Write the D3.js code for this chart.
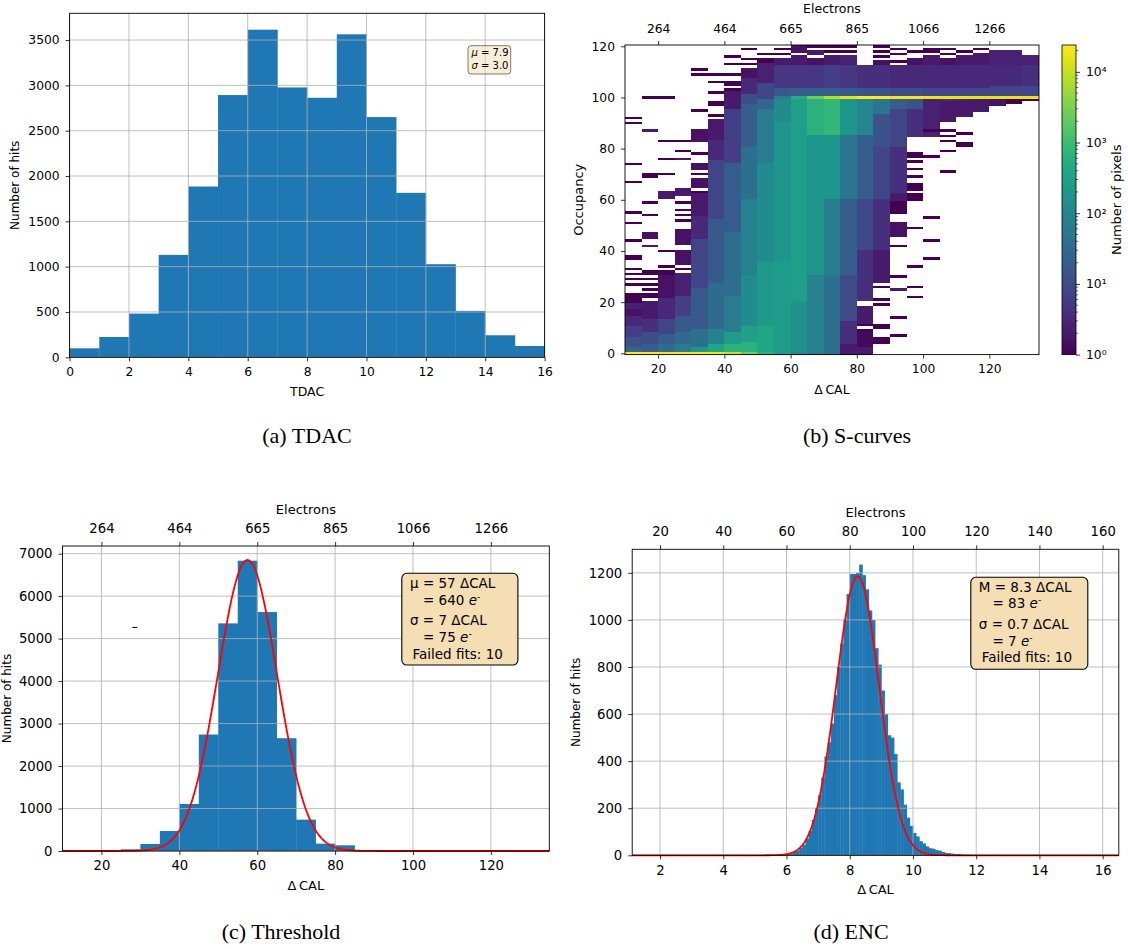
<!DOCTYPE html>
<html>
<head>
<meta charset="utf-8">
<script src="https://cdn.jsdelivr.net/npm/d3@7"></script>
<style>
  body { margin: 0; background: #fff; }
  svg text { font-family: "DejaVu Sans", sans-serif; }
  svg text.caption { font-family: "Liberation Serif", "Times New Roman", serif; }
</style>
</head>
<body>
<svg id="fig" width="1128" height="949"></svg>
<script>
// ---- data ----

// (a) TDAC histogram, unit bins
const tdacBins = [0, 1, 2, 3, 4, 5, 6, 7, 8, 9, 10, 11, 12, 13, 14, 15];
const tdacCounts = [99, 224, 482, 1130, 1884, 2893, 3614, 2977, 2863, 3563, 2650, 1814, 1027, 512, 243, 125];
const tdacTicksX = [0, 2, 4, 6, 8, 10, 12, 14, 16];
const tdacTicksY = [0, 500, 1000, 1500, 2000, 2500, 3000, 3500];

// ΔCAL ticks and their electron equivalents (top axis of b and c)
const calTicks = [20, 40, 60, 80, 100, 120];
const electronLabels = [264, 464, 665, 865, 1066, 1266];

// (b) S-curves: ΔCAL columns (5 wide), per column runs of occupancy rows [from, to, log10(pixels)]
const scurveCal = [10, 15, 20, 25, 30, 35, 40, 45, 50, 55, 60, 65, 70, 75, 80, 85, 90, 95, 100, 105, 110, 115, 120, 125, 130];
const scurveRuns = [
  [[0,0,4.35],[1,2,1.4],[3,6,1.1],[7,10,0.8],[11,14,0.5],[15,17,0.2],[18,19,0.4],[20,21,0]],
  [[0,0,4.35],[1,3,1.3],[4,8,1.0],[9,13,0.6],[14,20,0.3],[22,23,0],[42,42,0.3],[45,47,0.2],[87,87,0.3]],
  [[0,0,4.3],[1,3,1.5],[4,7,1.3],[8,13,0.9],[14,21,0.5],[22,30,0.2],[61,63,0.3]],
  [[0,0,4.3],[1,3,1.8],[4,8,1.5],[9,14,1.2],[15,22,0.8],[23,31,0.4],[35,40,0.2],[43,48,0.2],[62,64,0.3],[76,76,0.3]],
  [[0,0,4.3],[1,2,2.3],[3,9,1.6],[10,25,1.2],[26,44,0.9],[45,53,0.5],[54,62,0.3],[65,68,0.2],[72,74,0.2],[83,87,0.2]],
  [[0,0,4.25],[1,3,2.6],[4,9,1.9],[10,27,1.5],[28,52,1.2],[53,75,0.9],[76,83,0.5],[84,91,0.3]],
  [[0,0,4.0],[1,3,2.8],[4,8,2.4],[9,22,1.8],[23,47,1.55],[48,74,1.25],[75,95,0.8],[96,102,0.3]],
  [[0,0,3.4],[1,4,2.8],[5,10,2.5],[11,30,2.1],[31,60,1.9],[61,80,1.6],[81,97,1.3],[98,101,1.0],[102,107,0.5],[108,111,0.2]],
  [[0,0,2.8],[1,10,2.6],[11,35,2.35],[36,74,2.1],[75,95,1.8],[96,99,1.4],[100,105,0.9],[106,113,0.4]],
  [[0,0,2.4],[1,35,2.4],[36,90,2.3],[91,99,2.1],[100,100,1.8],[101,103,1.2],[104,112,0.7],[113,115,0.3]],
  [[0,0,2.0],[1,20,2.2],[21,95,2.45],[96,99,2.5],[100,100,2.7],[101,103,1.3],[104,112,0.7],[113,116,0.3],[118,120,0.2]],
  [[0,0,1.8],[1,30,1.95],[31,85,2.3],[86,99,2.8],[100,100,3.4],[101,103,1.3],[104,112,0.7],[113,115,0.2],[117,118,0.3]],
  [[0,0,1.5],[1,30,1.6],[31,60,1.85],[61,85,2.3],[86,99,2.9],[100,100,3.9],[101,103,1.3],[104,112,0.8],[113,116,0.3]],
  [[0,3,0.3],[4,12,0.6],[13,30,1.0],[31,60,1.3],[61,85,1.7],[86,99,2.3],[100,100,4.2],[101,103,1.2],[104,112,0.7],[113,116,0.4]],
  [[0,2,0.3],[3,8,0.1],[12,18,0.3],[21,40,0.6],[41,60,0.95],[61,85,1.3],[86,99,2.0],[100,100,4.35],[101,103,1.1],[104,112,0.6]],
  [[4,6,0],[28,40,0.3],[41,60,0.6],[61,80,0.9],[81,93,1.1],[94,99,1.7],[100,100,4.35],[101,103,1.1],[104,112,0.6],[113,114,0.2]],
  [[25,25,0.3],[46,51,0.2],[55,59,0],[60,62,0.3],[63,80,0.6],[81,95,0.9],[96,99,1.3],[100,100,4.3],[101,103,1.0],[104,112,0.5]],
  [[60,62,0],[64,66,0],[77,78,0],[85,95,0.6],[96,99,1.1],[100,100,4.3],[101,103,1.0],[104,112,0.5],[113,115,0.2]],
  [[85,99,0.4],[100,100,4.25],[101,103,0.9],[104,112,0.5],[113,116,0.3]],
  [[91,98,0.3],[99,99,0.5],[100,100,4.2],[101,103,0.9],[104,112,0.5],[113,115,0.2]],
  [[93,98,0.3],[99,99,0.4],[100,100,4.2],[101,103,0.9],[104,112,0.5],[113,116,0.3]],
  [[95,99,0.3],[100,100,4.2],[101,103,0.9],[104,112,0.5],[113,117,0.3]],
  [[97,99,0.2],[100,100,4.2],[101,104,0.9],[105,112,0.5],[113,118,0.4]],
  [[98,99,0],[100,100,4.2],[101,104,0.9],[105,112,0.5],[113,118,0.4]],
  [[99,99,0],[100,100,4.2],[101,104,0.9],[105,112,0.6],[113,116,0.4]]
];
// isolated rows holding a single pixel
const scurveSingles = [
  [22, 23, 27, 29, 31, 33, 37, 38, 44, 51, 55, 67, 74, 90, 92],
  [25, 27, 29, 31, 32, 54, 59, 69, 70, 100],
  [31, 32, 34, 40, 70, 76, 83, 100],
  [33, 52, 54, 56, 59, 79, 83],
  [63, 70, 78, 95, 109, 111],
  [93, 97, 98, 102, 106, 109],
  [103, 105, 106, 109, 113, 116],
  [113, 115, 119],
  [114, 115, 117],
  [117, 119],
  [],
  [120],
  [118, 120],
  [118, 120],
  [9, 11],
  [10, 11, 19, 21, 26, 116, 118, 120],
  [7, 14, 30, 42, 114, 117, 119],
  [22, 26, 34, 49, 69, 72, 75, 118],
  [37, 44, 53, 77, 87, 118, 119],
  [71, 79, 83, 85, 87, 117, 119],
  [81, 82, 86, 118],
  [119],
  [],
  [],
  []
];
const occTicks = [0, 20, 40, 60, 80, 100, 120];
const pixelMax = 24000;
const cbarTicks = [1, 10, 100, 1000, 10000];
const cbarLabels = ["10\u2070", "10\u00b9", "10\u00b2", "10\u00b3", "10\u2074"];

// (c) threshold histogram, 5 ΔCAL bins
const thrBins = [25, 30, 35, 40, 45, 50, 55, 60, 65, 70, 75, 80];
const thrCounts = [40, 165, 471, 1108, 2742, 5358, 6834, 5625, 2655, 738, 173, 134];
const thrTicksY = [0, 1000, 2000, 3000, 4000, 5000, 6000, 7000];
const thrFit = { amp: 6850, mean: 57.5, sigma: 7.6 };
const thrStray = [28.6, 5263];

// (d) ENC histogram, 0.1 ΔCAL bins starting at 6.0
const encStart = 6.0, encWidth = 0.1;
const encCounts = [6, 8, 14, 20, 32, 45, 70, 105, 150, 200,
                   255, 330, 420, 480, 560, 680, 800, 900, 1000, 1110,
                   1195, 1195, 1200, 1235, 1190, 1130, 1040, 1000, 880, 810,
                   700, 600, 510, 500, 430, 310, 280, 215, 160, 125,
                   95, 80, 60, 50, 38, 30, 28, 22, 20, 14,
                   10, 9, 7, 5, 6, 3, 2, 2];
const encTicks = [2, 4, 6, 8, 10, 12, 14, 16];
const encElectrons = [20, 40, 60, 80, 100, 120, 140, 160];
const encTicksY = [0, 200, 400, 600, 800, 1000, 1200];
const encFit = { amp: 1185, mean: 8.25, sigma: 0.68 };

// ---- helpers ----
const svg = d3.select("#fig");
const BLUE = "#1f77b4", GRID = "#b0b0b0";

function styleAxis(sel, fs) {
  sel.attr("font-family", "'DejaVu Sans', sans-serif").attr("font-size", fs);
  sel.select(".domain").remove();
  sel.selectAll(".tick line").attr("stroke", "#000").attr("stroke-width", 0.8);
  sel.selectAll(".tick text").attr("fill", "#000");
  return sel;
}

function gridLines(g, x, y, xt, yt) {
  const gg = g.append("g").attr("stroke", GRID).attr("stroke-width", 0.8);
  gg.selectAll(".gx").data(xt).join("line")
    .attr("x1", d => x(d)).attr("x2", d => x(d))
    .attr("y1", y.range()[0]).attr("y2", y.range()[1]);
  gg.selectAll(".gy").data(yt).join("line")
    .attr("y1", d => y(d)).attr("y2", d => y(d))
    .attr("x1", x.range()[0]).attr("x2", x.range()[1]);
}

function frame(g, x, y) {
  g.append("rect")
    .attr("x", x.range()[0]).attr("y", y.range()[1])
    .attr("width", x.range()[1] - x.range()[0])
    .attr("height", y.range()[0] - y.range()[1])
    .attr("fill", "none").attr("stroke", "#000").attr("stroke-width", 0.9);
}

function text(g, str, x, y, fs, opts = {}) {
  const t = g.append("text").attr("x", x).attr("y", y).attr("font-size", fs)
    .attr("text-anchor", opts.anchor || "middle").text(str);
  if (opts.rotate) t.attr("transform", `rotate(-90,${x},${y})`);
  if (opts.cls) t.attr("class", opts.cls);
  return t;
}

function caption(str, x, y) {
  text(svg, str, x, y, 22, { cls: "caption" });
}

function bottomAxis(g, x, y, ticks, fs, fmt) {
  const a = d3.axisBottom(x).tickValues(ticks).tickSize(4).tickSizeOuter(0).tickPadding(6);
  if (fmt) a.tickFormat(fmt);
  styleAxis(g.append("g").attr("transform", `translate(0,${y.range()[0]})`).call(a), fs);
}

function leftAxis(g, x, y, ticks, fs) {
  const a = d3.axisLeft(y).tickValues(ticks).tickSize(4).tickSizeOuter(0).tickPadding(6).tickFormat(d3.format("d"));
  styleAxis(g.append("g").attr("transform", `translate(${x.range()[0]},0)`).call(a), fs);
}

function topAxis(g, x, y, ticks, labels, fs, pad) {
  const a = d3.axisTop(x).tickValues(ticks).tickSize(4).tickSizeOuter(0).tickPadding(pad)
    .tickFormat((d, i) => labels[i]);
  styleAxis(g.append("g").attr("transform", `translate(0,${y.range()[1]})`).call(a), fs);
}

function fitBox(g, x0, y0, w, h, lines, fs) {
  g.append("rect").attr("x", x0).attr("y", y0).attr("width", w).attr("height", h)
    .attr("rx", 5).attr("fill", "#f5deb3").attr("stroke", "#000").attr("stroke-width", 1.1);
  lines.forEach(l => {
    const t = g.append("text").attr("x", l.x).attr("y", l.y).attr("font-size", fs);
    t.append("tspan").text(l.t);
    if (l.e) {
      t.append("tspan").attr("font-style", "italic").text(" e");
      t.append("tspan").attr("dy", -5).attr("font-size", fs * 0.7).text("-");
    }
  });
}

function gaussPath(x, y, fit) {
  const xs = d3.range(x.domain()[0], x.domain()[1], (x.domain()[1] - x.domain()[0]) / 600).concat([x.domain()[1]]);
  return d3.line()
    .x(d => x(d))
    .y(d => y(fit.amp * Math.exp(-0.5 * Math.pow((d - fit.mean) / fit.sigma, 2))))(xs);
}

// ---- (a) TDAC ----
{
  const g = svg.append("g");
  const x = d3.scaleLinear().domain([0, 16]).range([69.6, 544.6]);
  const y = d3.scaleLinear().domain([0, 3795]).range([357.3, 13.3]);
  g.selectAll(".bar").data(tdacBins).join("rect")
    .attr("x", d => x(d)).attr("width", d => x(d + 1) - x(d) + 0.3)
    .attr("y", (d, i) => y(tdacCounts[i])).attr("height", (d, i) => y(0) - y(tdacCounts[i]))
    .attr("fill", BLUE);
  gridLines(g, x, y, tdacTicksX, tdacTicksY);
  frame(g, x, y);
  bottomAxis(g, x, y, tdacTicksX, 12.3);
  leftAxis(g, x, y, tdacTicksY, 12.3);
  text(g, "TDAC", (x.range()[0] + x.range()[1]) / 2, 396, 12.5);
  text(g, "Number of hits", 19.5, (y.range()[0] + y.range()[1]) / 2, 12, { rotate: true });
  // stats box
  g.append("rect").attr("x", 468).attr("y", 45.7).attr("width", 42.7).attr("height", 28.3).attr("rx", 3)
    .attr("fill", "rgba(245,222,179,0.5)").attr("stroke", "rgba(0,0,0,0.5)").attr("stroke-width", 1);
  [["\u03bc", " = 7.9", 56.4], ["\u03c3", " = 3.0", 68.7]].forEach(([s, v, yy]) => {
    const t = g.append("text").attr("x", 471.5).attr("y", yy).attr("font-size", 10);
    t.append("tspan").attr("font-style", "italic").text(s);
    t.append("tspan").text(v);
  });
  caption("(a) TDAC", 307, 443);
}

// ---- (b) S-curves ----
{
  const g = svg.append("g");
  const x = d3.scaleLinear().domain([10, 135]).range([625, 1039]);
  const y = d3.scaleLinear().domain([-0.5, 120.5]).range([354.6, 45]);
  const lmax = Math.log10(pixelMax);
  const color = lv => d3.interpolateViridis(Math.max(0, Math.min(1, lv / lmax)));
  const cells = [];
  scurveCal.forEach((c, i) => {
    scurveRuns[i].forEach(r => cells.push({ c, lo: r[0], hi: r[1], lv: r[2] }));
    scurveSingles[i].forEach(v => cells.push({ c, lo: v, hi: v, lv: 0 }));
  });
  g.append("g").attr("shape-rendering", "crispEdges").selectAll("rect").data(cells).join("rect")
    .attr("x", d => x(d.c)).attr("width", d => x(d.c + 5) - x(d.c))
    .attr("y", d => y(d.hi + 0.5)).attr("height", d => y(d.lo - 0.5) - y(d.hi + 0.5))
    .attr("fill", d => color(d.lv));
  frame(g, x, y);
  bottomAxis(g, x, y, calTicks, 12.3);
  leftAxis(g, x, y, occTicks, 12.3);
  topAxis(g, x, y, calTicks, electronLabels, 12.3, 8);
  text(g, "\u0394\u2009CAL", (x.range()[0] + x.range()[1]) / 2, 394, 12.5);
  text(g, "Electrons", (x.range()[0] + x.range()[1]) / 2, 13, 12.5);
  text(g, "Occupancy", 583.5, (y.range()[0] + y.range()[1]) / 2, 13, { rotate: true });

  // colour bar
  const cb = d3.scaleLog().domain([1, pixelMax]).range([354.6, 45]);
  const defs = svg.append("defs");
  const grad = defs.append("linearGradient").attr("id", "viridis")
    .attr("x1", 0).attr("y1", 1).attr("x2", 0).attr("y2", 0);
  d3.range(0, 1.0001, 0.05).forEach(t => grad.append("stop").attr("offset", t).attr("stop-color", d3.interpolateViridis(t)));
  g.append("rect").attr("x", 1062).attr("y", 45).attr("width", 14).attr("height", 309.6).attr("fill", "url(#viridis)");
  g.append("rect").attr("x", 1062).attr("y", 45).attr("width", 14).attr("height", 309.6)
    .attr("fill", "none").attr("stroke", "#000").attr("stroke-width", 0.8);
  const minor = [];
  cbarTicks.forEach(t => [2, 3, 4, 5, 6, 7, 8, 9].forEach(m => { if (t * m < pixelMax) minor.push(t * m); }));
  g.append("g").selectAll("line").data(minor).join("line")
    .attr("x1", 1076).attr("x2", 1078.2).attr("y1", d => cb(d)).attr("y2", d => cb(d))
    .attr("stroke", "#000").attr("stroke-width", 0.6);
  const ca = d3.axisRight(cb).tickValues(cbarTicks).tickSize(4).tickSizeOuter(0).tickPadding(6)
    .tickFormat((d, i) => cbarLabels[i]);
  styleAxis(g.append("g").attr("transform", "translate(1076,0)").call(ca), 12.3);
  text(g, "Number of pixels", 1121, (cb.range()[0] + cb.range()[1]) / 2, 13, { rotate: true });
  caption("(b) S-curves", 857, 443);
}

// ---- (c) Threshold ----
{
  const g = svg.append("g");
  const x = d3.scaleLinear().domain([10, 135]).range([62.5, 549.3]);
  const y = d3.scaleLinear().domain([0, 7180]).range([851, 546]);
  g.selectAll(".bar").data(thrBins).join("rect")
    .attr("x", d => x(d)).attr("width", d => x(d + 5) - x(d) + 0.3)
    .attr("y", (d, i) => y(thrCounts[i])).attr("height", (d, i) => y(0) - y(thrCounts[i]))
    .attr("fill", BLUE);
  gridLines(g, x, y, calTicks, thrTicksY);
  g.append("path").attr("d", gaussPath(x, y, thrFit)).attr("fill", "none").attr("stroke", "#ff0000").attr("stroke-width", 1.8);
  g.append("line").attr("x1", x(thrStray[0]) - 2.5).attr("x2", x(thrStray[0]) + 2.5)
    .attr("y1", y(thrStray[1])).attr("y2", y(thrStray[1])).attr("stroke", "#000").attr("stroke-width", 1);
  frame(g, x, y);
  bottomAxis(g, x, y, calTicks, 13.2);
  leftAxis(g, x, y, thrTicksY, 13.2);
  topAxis(g, x, y, calTicks, electronLabels, 13.2, 9);
  text(g, "\u0394\u2009CAL", (x.range()[0] + x.range()[1]) / 2, 890, 13);
  text(g, "Electrons", (x.range()[0] + x.range()[1]) / 2, 514, 13);
  text(g, "Number of hits", 11, (y.range()[0] + y.range()[1]) / 2, 12, { rotate: true });
  fitBox(g, 401.8, 573.3, 116.1, 91.7, [
    { t: "\u03bc = 57 \u0394CAL", x: 410, y: 588.2 },
    { t: "= 640", e: true, x: 423, y: 604.9 },
    { t: "\u03c3 = 7 \u0394CAL", x: 410, y: 624.9 },
    { t: "= 75", e: true, x: 423, y: 641.6 },
    { t: "Failed fits: 10", x: 412.5, y: 658.9 }
  ], 13.5);
  caption("(c) Threshold", 281, 939);
}

// ---- (d) ENC ----
{
  const g = svg.append("g");
  const x = d3.scaleLinear().domain([1.12, 16.51]).range([632.2, 1118.8]);
  const y = d3.scaleLinear().domain([0, 1300]).range([855.3, 549.3]);
  g.append("g").selectAll("rect").data(encCounts).join("rect")
    .attr("x", (d, i) => x(encStart + i * encWidth)).attr("width", x(encWidth) - x(0) + 0.4)
    .attr("y", d => y(d)).attr("height", d => y(0) - y(d))
    .attr("fill", BLUE);
  gridLines(g, x, y, encTicks, encTicksY);
  g.append("path").attr("d", gaussPath(x, y, encFit)).attr("fill", "none").attr("stroke", "#ff0000").attr("stroke-width", 1.8);
  frame(g, x, y);
  bottomAxis(g, x, y, encTicks, 13.2);
  leftAxis(g, x, y, encTicksY, 13.2);
  topAxis(g, x, y, encTicks, encElectrons, 13.2, 9);
  text(g, "\u0394\u2009CAL", (x.range()[0] + x.range()[1]) / 2, 894, 13);
  text(g, "Electrons", (x.range()[0] + x.range()[1]) / 2, 517, 13);
  text(g, "Number of hits", 580, (y.range()[0] + y.range()[1]) / 2, 12, { rotate: true });
  fitBox(g, 970.8, 577.3, 117, 92, [
    { t: "M = 8.3 \u0394CAL", x: 978.8, y: 591.6 },
    { t: "= 83", e: true, x: 992.5, y: 608.2 },
    { t: "\u03c3 = 0.7 \u0394CAL", x: 978.8, y: 628.9 },
    { t: "= 7", e: true, x: 992.5, y: 645.6 },
    { t: "Failed fits: 10", x: 981.7, y: 662.2 }
  ], 13.5);
  caption("(d) ENC", 851, 939);
}
</script>
</body>
</html>
